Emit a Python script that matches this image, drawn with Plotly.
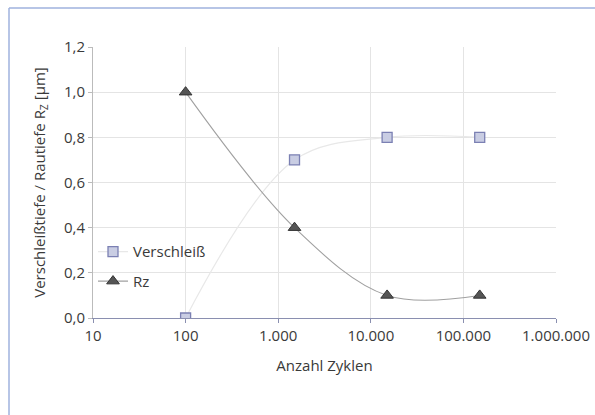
import plotly.graph_objects as go

zyklen = [100, 1500, 15000, 150000]
verschleiss = [0.0, 0.7, 0.8, 0.8]
rz = [1.0, 0.4, 0.1, 0.1]
x_tickvals = [10, 100, 1000, 10000, 100000, 1000000]
x_ticktext = ["10", "100", "1.000", "10.000", "100.000", "1.000.000"]
y_tickvals = [0, 0.2, 0.4, 0.6, 0.8, 1.0, 1.2]
y_ticktext = ["0,0", "0,2", "0,4", "0,6", "0,8", "1,0", "1,2"]

PW, PH = 463, 271
ML, MB = 93, 97

fig = go.Figure()
fig.add_trace(go.Scatter(
    x=zyklen, y=verschleiss, name="Verschleiß", mode="lines+markers",
    legendgroup="a",
    line=dict(shape="spline", color="#e8e8e8", width=1.2),
    marker=dict(symbol="square", size=10, color="#c9cde3",
                line=dict(color="#7b80b3", width=1.3)),
))
fig.add_trace(go.Scatter(
    x=zyklen, y=rz, name="Rz", mode="lines+markers",
    legendgroup="b",
    line=dict(shape="spline", color="#a0a0a0", width=1.1),
    marker=dict(symbol="triangle-up", size=11, color="#555555",
                line=dict(color="#333333", width=1)),
))

fig.update_layout(
    width=595, height=415,
    margin=dict(l=ML, r=39, t=47, b=MB, autoexpand=False),
    paper_bgcolor="white", plot_bgcolor="white",
    font=dict(family="Open Sans", size=15, color="#3a3a3a"),
    showlegend=True,
    legend=dict(x=0.0, y=0.305, xanchor="left", yanchor="top",
                bgcolor="rgba(0,0,0,0)", font=dict(size=15, color="#3a3a3a"),
                tracegroupgap=7),
    xaxis=dict(type="log", range=[1, 6], tickvals=x_tickvals, ticktext=x_ticktext,
               showgrid=True, gridcolor="#e4e4e4", gridwidth=1,
               showline=True, linecolor="#8a8fb0", linewidth=1.2,
               ticks="outside", ticklen=4, tickcolor="#8a8fb0",
               title=dict(text="Anzahl Zyklen", standoff=16, font=dict(size=15)),
               zeroline=False, automargin=False),
    yaxis=dict(range=[0, 1.2], tickvals=y_tickvals, ticktext=y_ticktext,
               showgrid=True, gridcolor="#e4e4e4", gridwidth=1,
               showline=True, linecolor="#bbbbbb", linewidth=1,
               ticks="outside", ticklen=4, tickcolor="#bbbbbb",
               title=dict(text="Verschleißtiefe / Rautiefe R<sub>Z</sub> [µm]",
                          standoff=14, font=dict(size=15)),
               zeroline=False, automargin=False),
    shapes=[
        dict(type="line", xref="paper", yref="paper",
             x0=(9 - ML) / PW, x1=(600 - ML) / PW,
             y0=1 + 39 / PH, y1=1 + 39 / PH,
             line=dict(color="#9fb2de", width=1.5), layer="below"),
        dict(type="line", xref="paper", yref="paper",
             x0=(9 - ML) / PW, x1=(9 - ML) / PW,
             y0=-MB / PH, y1=1 + 39 / PH,
             line=dict(color="#9fb2de", width=1.5), layer="below"),
    ],
)

fig.write_html("out.html")
